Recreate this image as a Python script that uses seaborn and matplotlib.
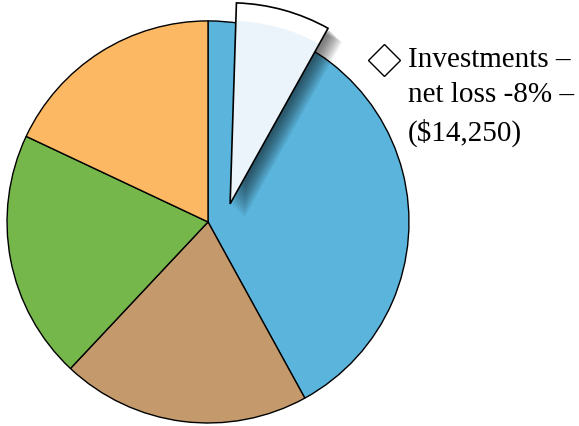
import matplotlib
matplotlib.use("Agg")
import matplotlib.pyplot as plt
import matplotlib.patheffects as pe
from matplotlib.transforms import Affine2D
import seaborn as sns

# base pie, clockwise from 12 o'clock (percent of total)
segments = ["Blue", "Tan", "Green", "Orange"]
shares = [42, 20, 20, 18]
seg_colors = ["#5ab4dc", "#c49a6c", "#76b74c", "#fdb863"]

# pulled-out investments wedge (sits inside the blue segment)
invest_parts = [0.5, 7.6, 91.9]   # gap from top, investments, remainder
invest_label = "Investments \u2013\nnet loss -8% \u2013\n($14,250)"
invest_shift = (0.11, 0.09)       # how far the wedge is pulled out

sns.set_theme(style="white")
plt.rcParams["font.family"] = ["Liberation Serif", "DejaVu Serif"]

fig = plt.figure(figsize=(5.79, 4.26), dpi=100)
ax = fig.add_axes([0, 0, 1, 1])

ax.pie(shares, colors=seg_colors, startangle=90, counterclock=False,
       wedgeprops=dict(edgecolor="black", linewidth=1))

shift = Affine2D().translate(*invest_shift) + ax.transData

def invest_wedge(radius, face, edge, lw, z, effects=None):
    wedges = ax.pie(invest_parts, startangle=90, counterclock=False, radius=radius,
                    colors=["none", face, "none"],
                    wedgeprops=dict(edgecolor=edge, linewidth=lw))[0]
    for i, w in enumerate(wedges):
        if i != 1:
            w.remove()
            continue
        w.set_transform(shift)
        w.set_zorder(z)
        if effects:
            w.set_path_effects(effects)

# soft drop shadow built from stacked faint copies
shadow = [pe.SimplePatchShadow(offset=(o, -o), shadow_rgbFace="black", alpha=0.07)
          for o in [10, 9, 8, 7, 6, 5, 4, 3, 2]]
invest_wedge(1.0, "white", "none", 0, 5, shadow + [pe.Normal()])
invest_wedge(0.91, "#ebf4fa", "none", 0, 6)
invest_wedge(1.0, "none", "black", 1.2, 7)

ax.set_xlim(-1.035, 1.846)
ax.set_ylim(-1.015, 1.104)
ax.set_aspect("auto")
ax.axis("off")

ax.plot([0.877], [0.806], marker="D", markersize=16, markerfacecolor="white",
        markeredgecolor="black", markeredgewidth=1, linestyle="none", zorder=8)
ax.text(0.995, 0.87, invest_label, fontsize=21, va="top", ha="left",
        linespacing=1.47, color="black")

fig.savefig("out.png", dpi=100)
